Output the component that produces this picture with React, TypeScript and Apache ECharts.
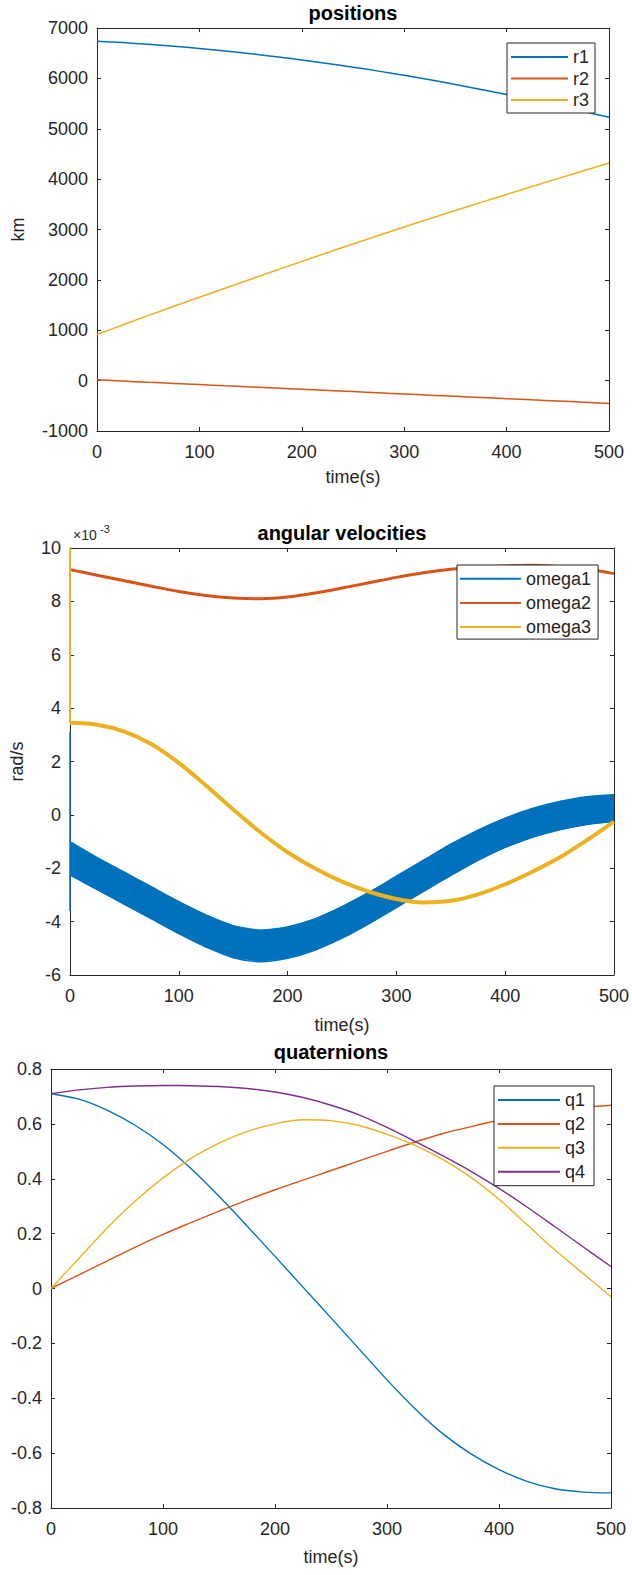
import React, { useEffect, useRef } from "react";
import * as echarts from "echarts";

// ---- data ----
const T = [0, 25, 50, 75, 100, 125, 150, 175, 200, 225, 250, 275, 300, 325, 350, 375, 400, 425, 450, 475, 500];

// positions (km)
const r1 = [6738, 6710, 6676, 6637, 6593, 6544, 6490, 6431, 6366, 6297, 6223, 6144, 6060, 5972, 5879, 5781, 5679, 5572, 5461, 5346, 5227];
const r2 = [15, -8, -32, -55, -78, -102, -125, -148, -172, -195, -218, -242, -265, -288, -312, -335, -358, -382, -405, -428, -452];
const r3 = [915, 1105, 1290, 1475, 1655, 1835, 2012, 2190, 2365, 2540, 2712, 2882, 3050, 3215, 3378, 3538, 3696, 3855, 4010, 4165, 4320];

// angular velocities (x1e-3 rad/s)
const omega1Upper = [-1.0, -1.6, -2.15, -2.7, -3.25, -3.75, -4.15, -4.32, -4.2, -3.9, -3.44, -2.9, -2.3, -1.7, -1.1, -0.57, -0.12, 0.24, 0.5, 0.68, 0.75];
const omega1Lower = [-2.25, -2.8, -3.35, -3.9, -4.45, -4.95, -5.35, -5.5, -5.37, -5.07, -4.62, -4.07, -3.47, -2.87, -2.27, -1.7, -1.22, -0.84, -0.56, -0.36, -0.25];
const omega1Spike = [3.1, -3.6];
const omega2 = [9.19, 8.98, 8.77, 8.57, 8.37, 8.22, 8.13, 8.1, 8.16, 8.31, 8.5, 8.7, 8.9, 9.07, 9.2, 9.28, 9.33, 9.35, 9.3, 9.2, 9.04];
const omega3Spike = [10, 3.45];
const omega3 = [3.45, 3.38, 3.12, 2.65, 1.95, 1.1, 0.2, -0.65, -1.4, -2.0, -2.5, -2.88, -3.15, -3.28, -3.22, -2.98, -2.6, -2.13, -1.6, -0.95, -0.25];

// quaternions
const q1 = [0.71, 0.69, 0.65, 0.595, 0.525, 0.437, 0.336, 0.228, 0.117, 0.005, -0.107, -0.22, -0.333, -0.438, -0.53, -0.603, -0.66, -0.703, -0.73, -0.742, -0.745];
const q2 = [0.0, 0.05, 0.1, 0.15, 0.197, 0.24, 0.282, 0.322, 0.36, 0.395, 0.43, 0.465, 0.5, 0.534, 0.565, 0.59, 0.613, 0.632, 0.648, 0.66, 0.668];
const q3 = [0.0, 0.11, 0.22, 0.318, 0.403, 0.474, 0.53, 0.572, 0.6, 0.615, 0.612, 0.594, 0.562, 0.522, 0.47, 0.405, 0.325, 0.233, 0.14, 0.055, -0.03];
const q4 = [0.71, 0.724, 0.733, 0.738, 0.74, 0.739, 0.736, 0.729, 0.716, 0.696, 0.668, 0.633, 0.587, 0.536, 0.483, 0.427, 0.365, 0.297, 0.225, 0.152, 0.08];

// ---- style ----
const FONT = "Liberation Sans";
const AX = "#262626";
const C1 = "#0072BD";
const C2 = "#D95319";
const C3 = "#EDB120";
const C4 = "#7E2F8E";

const pairs = (ys: number[]) => T.map((t, i) => [t, ys[i]]);

function fmt(v: number) {
  if (Math.abs(v) < 1e-9) return "0";
  const r = Math.round(v * 10) / 10;
  return Number.isInteger(r) ? String(r) : r.toFixed(1);
}

function axes(g: number, ymin: number, ymax: number, yint: number, yName: string, yGap: number, xGap: number) {
  const common = {
    gridIndex: g,
    axisLine: { show: true, onZero: false, lineStyle: { color: AX, width: 1 } },
    axisTick: { show: true, inside: true, length: 4, lineStyle: { color: AX } },
    splitLine: { show: false },
  };
  const xBottom = {
    ...common,
    type: "value",
    position: "bottom",
    min: 0,
    max: 500,
    interval: 100,
    axisLabel: { show: true, margin: 12, fontSize: 18, color: AX, fontFamily: FONT, formatter: (v: number) => String(v) },
    name: "time(s)",
    nameLocation: "middle",
    nameGap: xGap,
    nameTextStyle: { fontSize: 18, color: AX, fontFamily: FONT },
  };
  const xTop = { ...common, type: "value", position: "top", min: 0, max: 500, interval: 100, axisLabel: { show: false } };
  const yLeft: any = {
    ...common,
    type: "value",
    position: "left",
    min: ymin,
    max: ymax,
    interval: yint,
    axisLabel: { show: true, margin: 9, fontSize: 18, color: AX, fontFamily: FONT, formatter: (v: number) => fmt(v) },
  };
  if (yName) {
    yLeft.name = yName;
    yLeft.nameLocation = "middle";
    yLeft.nameGap = yGap;
    yLeft.nameTextStyle = { fontSize: 18, color: AX, fontFamily: FONT };
  }
  const yRight = { ...common, type: "value", position: "right", min: ymin, max: ymax, interval: yint, axisLabel: { show: false } };
  return { x: [xBottom, xTop], y: [yLeft, yRight] };
}

const a1 = axes(0, -1000, 7000, 1000, "km", 70, 37);
const a2 = axes(1, -6, 10, 2, "rad/s", 44, 41);
const a3 = axes(2, -0.8, 0.8, 0.2, "", 0, 40);

const lineSeries = (name: string, data: any[], color: string, xi: number, yi: number, width: number, smooth: any = 0.3) => ({
  name,
  type: "line",
  xAxisIndex: xi,
  yAxisIndex: yi,
  data,
  color,
  symbol: "none",
  showSymbol: false,
  smooth,
  lineStyle: { color, width },
  itemStyle: { color },
  silent: true,
});

const legendBase = {
  orient: "vertical",
  icon: "rect",
  itemHeight: 2,
  borderColor: AX,
  borderWidth: 1,
  backgroundColor: "#fff",
  borderRadius: 0,
  itemStyle: { borderWidth: 0 },
  textStyle: { fontSize: 18, color: AX, fontFamily: FONT },
  selectedMode: false,
};

// filled band between the lower and upper envelope of omega1
const bandSeries = {
  name: "omega1",
  type: "custom",
  xAxisIndex: 2,
  yAxisIndex: 2,
  clip: true,
  silent: true,
  color: C1,
  itemStyle: { color: C1 },
  data: T.map((t, i) => [t, omega1Lower[i], omega1Upper[i]]),
  encode: { x: 0, y: [1, 2] },
  renderItem: (params: any, api: any) => {
    if (params.dataIndex !== 0) return null;
    const pts: number[][] = [];
    for (let i = 0; i < T.length; i++) pts.push(api.coord([T[i], omega1Upper[i]]));
    for (let i = T.length - 1; i >= 0; i--) pts.push(api.coord([T[i], omega1Lower[i]]));
    return {
      type: "polygon",
      shape: { points: pts },
      style: { fill: C1, stroke: C1, lineWidth: 0.5 },
    };
  },
};

const option: any = {
  animation: false,
  backgroundColor: "#fff",
  textStyle: { fontFamily: FONT },
  grid: [
    { left: 97, top: 28, width: 512, height: 403 },
    { left: 70, top: 548, width: 545, height: 427 },
    { left: 51, top: 1069, width: 560, height: 439 },
  ],
  xAxis: [...a1.x, ...a2.x, ...a3.x],
  yAxis: [...a1.y, ...a2.y, ...a3.y],
  legend: [
    { ...legendBase, data: ["r1", "r2", "r3"], left: 507, top: 43, itemWidth: 57, itemGap: 3.5, padding: [5, 6, 4, 4] },
    { ...legendBase, data: ["omega1", "omega2", "omega3"], left: 457, top: 565, itemWidth: 61, itemGap: 6.2, padding: [4.7, 7, 3, 3] },
    { ...legendBase, data: ["q1", "q2", "q3", "q4"], left: 494, top: 1086, itemWidth: 62, itemGap: 5.9, padding: [5, 9, 5, 4] },
  ],
  graphic: [
    { type: "text", x: 353, y: 13, style: { text: "positions", font: `bold 20px "${FONT}"`, fill: "#000", align: "center", verticalAlign: "middle" } },
    { type: "text", x: 342, y: 533, style: { text: "angular velocities", font: `bold 20px "${FONT}"`, fill: "#000", align: "center", verticalAlign: "middle" } },
    { type: "text", x: 331, y: 1052, style: { text: "quaternions", font: `bold 20px "${FONT}"`, fill: "#000", align: "center", verticalAlign: "middle" } },
    { type: "text", x: 73, y: 535, style: { text: "×10", font: `14px "${FONT}"`, fill: AX, align: "left", verticalAlign: "middle" } },
    { type: "text", x: 100, y: 529, style: { text: "-3", font: `11px "${FONT}"`, fill: AX, align: "left", verticalAlign: "middle" } },
  ],
  series: [
    lineSeries("r1", pairs(r1), C1, 0, 0, 1.5),
    lineSeries("r2", pairs(r2), C2, 0, 0, 1.5),
    lineSeries("r3", pairs(r3), C3, 0, 0, 1.5),

    bandSeries,
    lineSeries("omega1 upper", pairs(omega1Upper), C1, 2, 2, 1.5),
    lineSeries("omega1 lower", pairs(omega1Lower), C1, 2, 2, 1.5),
    lineSeries("omega1 spike", omega1Spike.map((v) => [0, v]), C1, 2, 2, 1.5, false),
    lineSeries("omega2", pairs(omega2), C2, 2, 2, 3),
    lineSeries("omega3 spike", omega3Spike.map((v) => [0, v]), C3, 2, 2, 2, false),
    lineSeries("omega3", pairs(omega3), C3, 2, 2, 4),

    lineSeries("q1", pairs(q1), C1, 4, 4, 1.4),
    lineSeries("q2", pairs(q2), C2, 4, 4, 1.4),
    lineSeries("q3", pairs(q3), C3, 4, 4, 1.4),
    lineSeries("q4", pairs(q4), C4, 4, 4, 1.4),
  ],
};

export default function App() {
  const ref = useRef<HTMLDivElement>(null);
  useEffect(() => {
    document.body.style.margin = "0";
    const chart = echarts.init(ref.current!, null, { renderer: "svg" });
    chart.setOption(option);
    return () => chart.dispose();
  }, []);
  return <div ref={ref} style={{ width: 632, height: 1575 }} />;
}
